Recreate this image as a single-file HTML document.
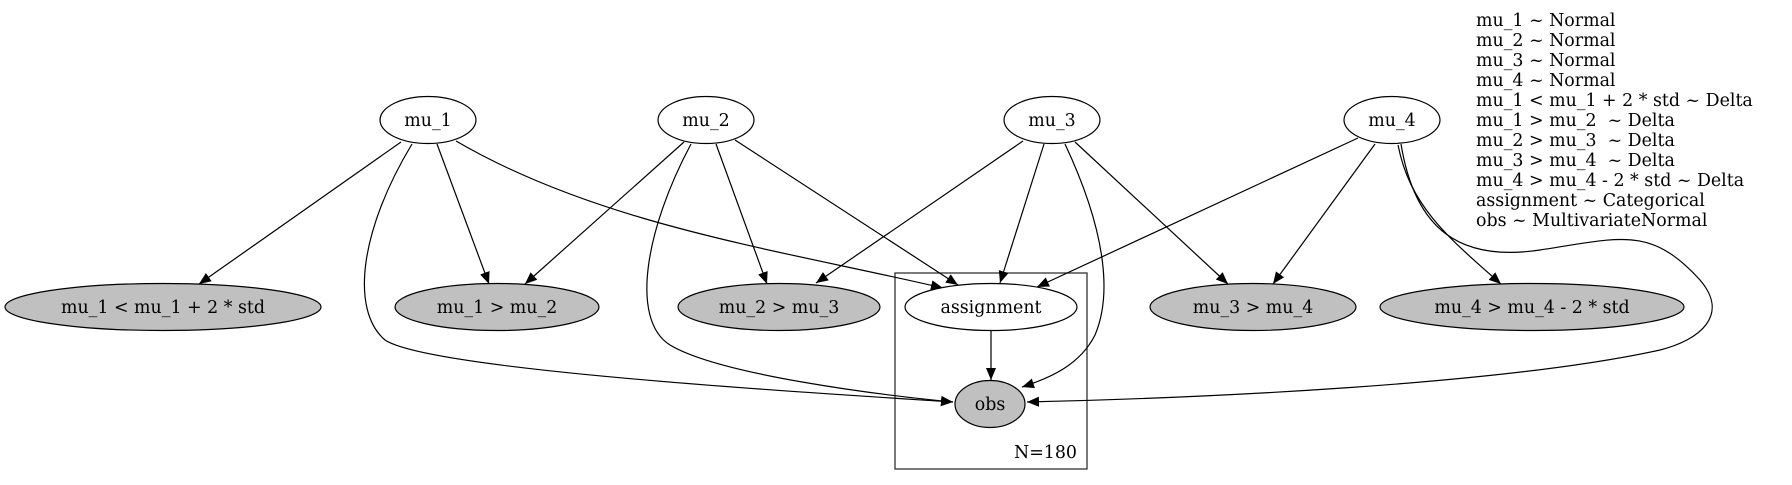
<!DOCTYPE html>
<html><head><meta charset="utf-8"><style>
html,body{margin:0;padding:0;background:#fff;}
svg{display:block;}
text{font-family:"DejaVu Serif","Liberation Serif",serif;font-size:17.4px;fill:#000;}
</style></head><body>
<svg width="1792" height="485" viewBox="0 0 1792 485">
<defs><marker id="ah" viewBox="0 0 10 10" refX="10" refY="5" markerWidth="12" markerHeight="12" markerUnits="userSpaceOnUse" orient="auto"><path d="M0,0.8 L10,5 L0,9.2 z" fill="#000"/></marker></defs>
<rect x="895" y="273" width="192" height="196" fill="none" stroke="#333" stroke-width="1.3"/>
<text x="1077" y="458" text-anchor="end">N=180</text>
<g id="edges" fill="none" stroke="#000" stroke-width="1.2"></g>
<g id="nodes"></g>
<g id="legend"></g>
</svg>
<script>
const nodeNames=["mu_1","mu_2","mu_3","mu_4","mu_1 < mu_1 + 2 * std","mu_1 > mu_2","mu_2 > mu_3","assignment","mu_3 > mu_4","mu_4 > mu_4 - 2 * std","obs"];
const nodeX=[428,706,1052,1392,163,497,779,991,1253,1532,990];
const nodeY=[120,120,120,120,307,307,307,307,307,307,404];
const nodeRx=[48,48,48,48,158,102,101,86,103,152,35];
const nodeObserved=[0,0,0,0,1,1,1,0,1,1,1];
const edgePaths=[
"M401,142 L199,284","M437,144 L489,284","M684,142 L525,284",
"M456,141 C600,225 780,250 943,288",
"M716,144 L767,284","M735,140 L958,285","M1023,141 L816,283",
"M1044,144 L1000,283","M1358,138 L1037,287","M1075,142 L1228,284","M1375,144 L1273,284",
"M1398,145 C1410,205 1445,235 1501,284",
"M1401,144 C1415,230 1460,262 1540,250 C1620,238 1650,225 1700,280 C1730,315 1700,340 1660,350 C1500,385 1200,398 1027,402",
"M1065,144 C1110,240 1110,300 1095,335 C1080,365 1050,378 1022,387",
"M412,144 C360,230 350,310 385,340 C430,370 800,392 953,402",
"M691,144 C645,230 630,320 670,345 C720,375 880,395 953,402",
"M991,331 L991,380"];
const legendLines=["mu_1 ~ Normal","mu_2 ~ Normal","mu_3 ~ Normal","mu_4 ~ Normal","mu_1 < mu_1 + 2 * std ~ Delta","mu_1 > mu_2  ~ Delta","mu_2 > mu_3  ~ Delta","mu_3 > mu_4  ~ Delta","mu_4 > mu_4 - 2 * std ~ Delta","assignment ~ Categorical","obs ~ MultivariateNormal"];
const NS="http://www.w3.org/2000/svg";
const eg=document.getElementById('edges');
edgePaths.forEach((d,i)=>{const p=document.createElementNS(NS,'path');p.setAttribute('d',d);p.setAttribute('marker-end','url(#ah)');


eg.appendChild(p);});
const ng=document.getElementById('nodes');
nodeNames.forEach((n,i)=>{const g=document.createElementNS(NS,'g');


const e=document.createElementNS(NS,'ellipse');e.setAttribute('cx',nodeX[i]);e.setAttribute('cy',nodeY[i]);e.setAttribute('rx',nodeRx[i]);e.setAttribute('ry',23.5);
e.setAttribute('fill',nodeObserved[i]?'#c0c0c0':'#fff');e.setAttribute('stroke','#000');e.setAttribute('stroke-width','1.2');
const t=document.createElementNS(NS,'text');t.setAttribute('x',nodeX[i]);t.setAttribute('y',nodeY[i]+6);t.setAttribute('text-anchor','middle');t.textContent=n;
g.appendChild(e);g.appendChild(t);ng.appendChild(g);});
const lg=document.getElementById('legend');
legendLines.forEach((s,i)=>{const t=document.createElementNS(NS,'text');t.setAttribute('x',1476);t.setAttribute('y',26+i*20);t.setAttribute('xml:space','preserve');t.style.whiteSpace='pre';t.textContent=s;


lg.appendChild(t);});
</script>
</body></html>
